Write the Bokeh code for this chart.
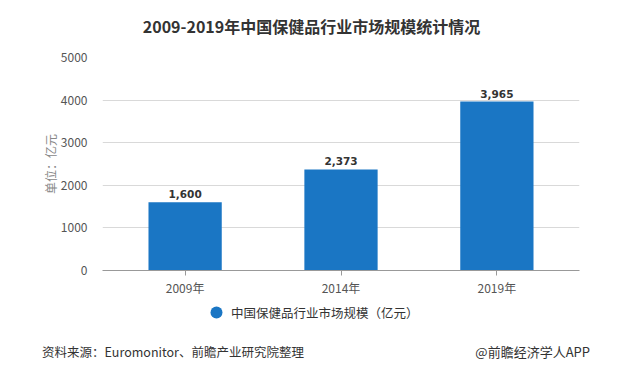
from bokeh.plotting import figure
from bokeh.models import (ColumnDataSource, FactorRange, Range1d, SingleIntervalTicker,
                          LabelSet, Legend, LegendItem, Div)
from bokeh.core.properties import value
from bokeh.layouts import column
from bokeh.embed import file_html
from bokeh.resources import INLINE

# ---- data ----
years = ["2009年", "2014年", "2019年"]
values = [1600, 2373, 3965]
value_labels = [f"{v:,}" for v in values]
series_name = "中国保健品行业市场规模（亿元）"
title_text = "2009-2019年中国保健品行业市场规模统计情况"
source_text = "资料来源：Euromonitor、前瞻产业研究院整理"
brand_text = "@前瞻经济学人APP"
y_axis_label = "单位：亿元"

FONT = "Noto Sans CJK SC"
BAR = "#1a76c4"

src = ColumnDataSource(dict(x=years, y=values, lbl=value_labels))

p = figure(width=623, height=255, output_backend="svg", toolbar_location=None,
           x_range=FactorRange(*years, range_padding=0.02),
           y_range=Range1d(0, 5000),
           min_border_left=102, min_border_right=44, min_border_top=12, min_border_bottom=30)
p.outline_line_color = None
p.background_fill_color = "white"
p.border_fill_color = "white"

bars = p.vbar(x="x", top="y", width=0.47, source=src, color=BAR, line_color=None)

# y axis
p.yaxis.ticker = SingleIntervalTicker(interval=1000)
p.yaxis.axis_line_color = None
p.yaxis.major_tick_line_color = None
p.yaxis.minor_tick_line_color = None
p.yaxis.major_label_standoff = 9
p.yaxis.major_label_text_font = FONT
p.yaxis.major_label_text_font_size = "12px"
p.yaxis.major_label_text_color = "#555555"
p.yaxis.axis_label = y_axis_label
p.yaxis.axis_label_text_font = FONT
p.yaxis.axis_label_text_font_size = "12px"
p.yaxis.axis_label_text_font_style = "normal"
p.yaxis.axis_label_text_color = "#888888"
p.yaxis.axis_label_standoff = -1

p.ygrid.grid_line_color = "#d9d9d9"
p.xgrid.grid_line_color = None

# x axis
p.xaxis.axis_line_color = "#999999"
p.xaxis.major_tick_line_color = "#999999"
p.xaxis.major_tick_out = 5
p.xaxis.major_tick_in = 0
p.xaxis.minor_tick_line_color = None
p.xaxis.major_label_standoff = 3
p.xaxis.major_label_text_font = FONT
p.xaxis.major_label_text_font_size = "12px"
p.xaxis.major_label_text_color = "#555555"

# data labels
labels = LabelSet(x="x", y="y", text="lbl", source=src, y_offset=4,
                  text_align="center", text_baseline="bottom",
                  text_font=value("DejaVu Sans"), text_font_size=value("10.5px"),
                  text_font_style="bold", text_color="#333333")
p.add_layout(labels)

# legend strip (separate small figure holding the legend)
lg = figure(width=623, height=24, output_backend="svg", toolbar_location=None,
            x_axis_location=None, y_axis_location=None,
            min_border_left=0, min_border_right=0, min_border_top=0, min_border_bottom=0)
lg.outline_line_color = None
lg.grid.grid_line_color = None
dot = lg.scatter(x="y", y="y", source=src, marker="circle", size=10,
                 color=BAR, line_color=None, visible=False)
legend = Legend(items=[LegendItem(label=series_name, renderers=[dot])],
                location=(99, -3), orientation="horizontal", click_policy="none",
                glyph_width=30, glyph_height=30, label_standoff=-4, padding=0, margin=0,
                border_line_color=None, background_fill_alpha=0,
                inactive_fill_alpha=0,
                label_text_font=FONT, label_text_font_size="12.5px", label_text_color="#333333")
lg.add_layout(legend, "center")

title_div = Div(width=623, height=45, margin=(0, 0, 0, 0),
                text=f'<div style="padding-top:15px;line-height:22px;text-align:center;width:623px;'
                     f'font-family:\'{FONT}\';font-size:16px;font-weight:bold;color:#333333;'
                     f'white-space:nowrap">{title_text}</div>')
footer_div = Div(width=623, height=50, margin=(0, 0, 0, 0),
                 text=f'<div style="display:flex;justify-content:space-between;box-sizing:border-box;'
                      f'width:623px;padding:20px 33px 0 42px;line-height:16px;'
                      f'font-family:\'{FONT}\';color:#333333;white-space:nowrap">'
                      f'<span style="font-size:12.5px">{source_text}</span>'
                      f'<span style="font-size:13px">{brand_text}</span></div>')

layout = column(title_div, p, lg, footer_div, spacing=0)

open("out.html", "w").write(file_html(layout, INLINE))
